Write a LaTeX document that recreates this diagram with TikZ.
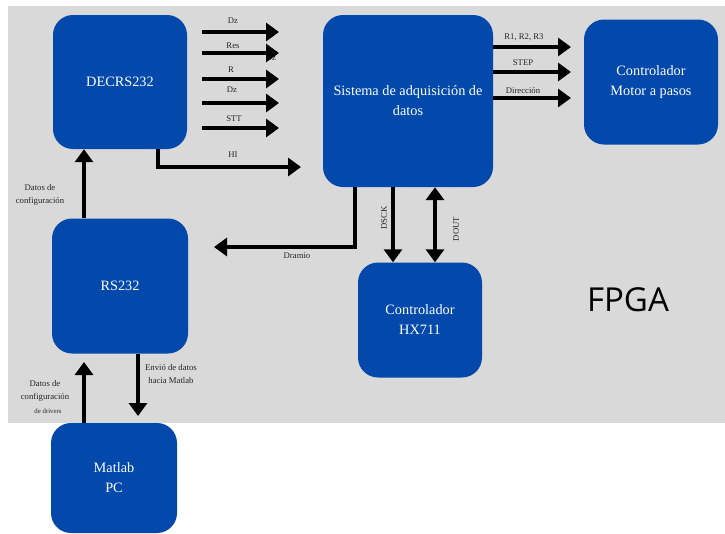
\documentclass[tikz,border=0pt]{standalone}
\usepackage{fontspec}
\setmainfont{Liberation Serif}
\newfontfamily\fpgafont{Open Sans}
\usetikzlibrary{arrows.meta}
\definecolor{bgray}{RGB}{217,217,217}
\definecolor{bblue}{RGB}{2,73,171}
\tikzset{
  blk/.style={fill=bblue, draw=none, rounded corners=20pt, text=white, align=center, font=\fontsize{14.3}{20}\selectfont, inner sep=0pt},
  conn/.style={line width=4.8pt, draw=black, -{Triangle[width=18pt,length=13pt]}},
  bconn/.style={line width=4.8pt, draw=black, {Triangle[width=18pt,length=13pt]}-{Triangle[width=18pt,length=13pt]}},
  lbl/.style={font=\fontsize{8.7}{13.5}\selectfont, text=black!85, inner sep=0pt, align=center},
}
\begin{document}
\begin{tikzpicture}[x=1pt,y=-1pt]
\useasboundingbox (0,0) rectangle (725,533);
\fill[bgray] (8,6) rectangle (725,423);
% blocks
\node[blk, minimum width=134pt, minimum height=134pt] (dec) at (120,82) {DECRS232};
\node[blk, minimum width=170pt, minimum height=172pt] (sis) at (408,101) {Sistema de adquisición de\\datos};
\node[blk, minimum width=134pt, minimum height=125pt] (mot) at (651,82) {Controlador\\Motor a pasos};
\node[blk, minimum width=136pt, minimum height=135pt] (rs) at (120,286) {RS232};
\node[blk, minimum width=124pt, minimum height=115pt] (hx) at (420,320) {Controlador\\HX711};
\node[blk, minimum width=126pt, minimum height=110pt] (mat) at (114,478) {Matlab\\PC};
% hidden label
\node[lbl] (dzh) at (271,58) {Dz};
% parallel arrows from DECRS232
\foreach \yy/\nm in {32/a,53/b,79/c,103/d,128/e}{
  \coordinate (s\nm) at (202,\yy);
  \coordinate (t\nm) at (279,\yy);
  \draw[conn] (s\nm) -- (t\nm);
}
\node[lbl] (l1) at (233,21) {Dz};
\node[lbl] (l2) at (233,46) {Res};
\node[lbl] (l3) at (231,70) {R};
\node[lbl] (l4) at (232,90) {Dz};
\node[lbl] (l5) at (234,119) {STT};
% HI
\coordinate (hix) at (158,0);
\coordinate (hie) at (301,167);
\draw[conn] (dec.south -| hix) |- (hie);
\node[lbl] (lhi) at (233,155) {HI};
% right arrows
\foreach \yy/\nm in {47/f,72/g,98/h}{
  \coordinate (u\nm) at (493,\yy);
  \coordinate (v\nm) at (571,\yy);
  \draw[conn] (u\nm) -- (v\nm);
}
\node[lbl] (l6) at (524,37) {R1, R2, R3};
\node[lbl] (l7) at (523,63) {STEP};
\node[lbl] (l8) at (523,91) {Dirección};
% Dramio
\coordinate (drx) at (355,0);
\coordinate (dre) at (214,247);
\draw[conn] (sis.south -| drx) |- (dre);
\node[lbl] (ldr) at (297,256) {Dramio};
% DSCK / DOUT
\coordinate (dsx) at (393,0);
\coordinate (dox) at (435,0);
\draw[conn] (sis.south -| dsx) -- (hx.north -| dsx);
\draw[bconn] (sis.south -| dox) -- (hx.north -| dox);
\node[lbl, rotate=90] (lds) at (384,218) {DSCK};
\node[lbl, rotate=90] (ldo) at (456,229) {DOUT};
% config
\coordinate (cx) at (84,0);
\draw[conn] (rs.north -| cx) -- (dec.south -| cx);
\node[lbl] (lc1) at (40,195) {Datos de\\configuración};
% Matlab arrows
\coordinate (mtip) at (84,362);
\draw[conn] (mat.north -| cx) -- (mtip);
\coordinate (ex) at (138,0);
\coordinate (etip) at (138,416);
\draw[conn] (rs.south -| ex) -- (etip);
\node[lbl] (le) at (171,374) {Envió de datos\\hacia Matlab};
\node[lbl] (lm) at (45,391) {Datos de\\configuración};
\node[lbl, font=\fontsize{6.8}{8}\selectfont] (lm2) at (48,411) {de drivers};
% FPGA
\node[inner sep=0pt, font=\fpgafont\fontsize{33}{36}\selectfont] (fpga) at (628,300) {FPGA};
\end{tikzpicture}
\end{document}
